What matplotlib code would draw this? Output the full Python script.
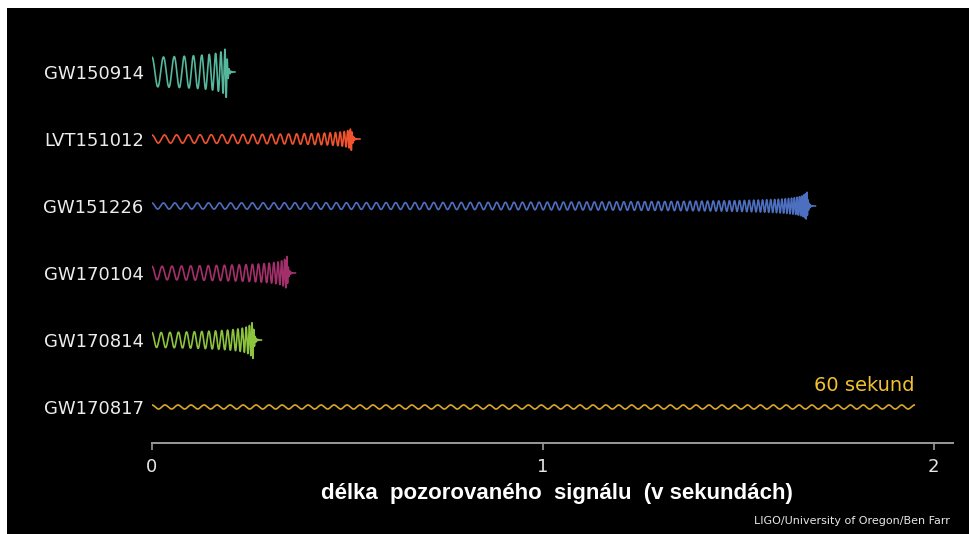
import matplotlib

matplotlib.use("Agg")
import matplotlib.pyplot as plt
import numpy as np

# detected events, top to bottom
events = ["GW150914", "LVT151012", "GW151226", "GW170104", "GW170814", "GW170817"]
colors = ["#55b89c", "#f0532e", "#4d6fc0", "#a3306a", "#8dc43e", "#d9a62a"]

# observed signal length (s) up to merger
merge_time = [0.19, 0.51, 1.675, 0.345, 0.258, 1.95]
# frequency at start / at merger (Hz)
f_start = [33.0, 31.0, 34.0, 38.0, 42.0, 30.0]
f_merge = [170.0, 230.0, 300.0, 220.0, 220.0, 30.5]
# strain amplitude in row units (start / peak)
amp_start = [0.22, 0.06, 0.045, 0.10, 0.11, 0.03]
amp_peak = [0.38, 0.17, 0.21, 0.25, 0.29, 0.03]
has_ringdown = [True, True, True, True, True, False]

xticks = [0, 1, 2]
x_max = 2.049
note_text = "60 sekund"
xlabel_text = "délka  pozorovaného  signálu  (v sekundách)"
credit_text = "LIGO/University of Oregon/Ben Farr"

RATE = 20000.0


def chirp(t_merge, f0, f1, a0, a1, ringdown):
    """Newtonian inspiral chirp followed by a short damped ringdown."""
    t = np.arange(0.0, t_merge, 1.0 / RATE)
    tc = t_merge / (1.0 - (f0 / f1) ** (8.0 / 3.0))
    f = f0 * (1.0 - t / tc) ** (-3.0 / 8.0)
    phase = 2 * np.pi * np.cumsum(f) / RATE
    k = np.log(a1 / a0) / np.log(f1 / f0) if a1 != a0 else 0.0
    h = a0 * (f / f0) ** k * np.cos(phase)
    if not ringdown:
        return t, h
    tr = np.arange(1.0 / RATE, 0.022, 1.0 / RATE)
    hr = a1 * np.exp(-tr / 0.0035) * np.cos(phase[-1] + 2 * np.pi * 1.2 * f1 * tr)
    return np.concatenate([t, t_merge + tr]), np.concatenate([h, hr])


fig = plt.figure(figsize=(9.7, 5.34), dpi=100, facecolor="white")
# black panel inside a thin white margin
fig.patches.append(plt.Rectangle((7 / 970, 0), 1, 1 - 8 / 534, transform=fig.transFigure,
                                 facecolor="black", edgecolor="none", zorder=-10))

ax = fig.add_axes([152 / 970, 1 - 443 / 534, 801 / 970, 423 / 534])
ax.set_facecolor("none")

n = len(events)
for i, name in enumerate(events):
    row = n - 1 - i
    t, h = chirp(merge_time[i], f_start[i], f_merge[i], amp_start[i], amp_peak[i], has_ringdown[i])
    ax.plot(t, row + h, color=colors[i], linewidth=1.2, solid_joinstyle="round")

ax.set_xlim(0, x_max)
ax.set_ylim(-36 / 67, n - 1 + 52 / 67)
ax.set_yticks(np.arange(n - 1, -1, -1))
ax.set_yticklabels(events, fontsize=13, color="#ececec")
ax.tick_params(axis="y", length=0, pad=6)
ax.set_xticks(xticks)
ax.set_xticklabels([str(v) for v in xticks], fontsize=13)
ax.tick_params(axis="x", colors="#9a9a9a", length=5, width=1.2, pad=6, labelcolor="#e6e6e6")

for side in ["top", "right", "left"]:
    ax.spines[side].set_visible(False)
ax.spines["bottom"].set_color("#9a9a9a")
ax.spines["bottom"].set_linewidth(1.4)

ax.text(merge_time[-1], 0.32, note_text, color="#f2c12e", fontsize=14, ha="right", va="center")

fig.text(557 / 970, 1 - 493 / 534, xlabel_text, color="white", fontsize=16, fontweight="bold",
         family="Liberation Sans", ha="center", va="center")
fig.text(950 / 970, 1 - 521 / 534, credit_text, color="#e8e8e8", fontsize=8, ha="right", va="center")

fig.savefig("out.png", dpi=100, facecolor=fig.get_facecolor())
plt.close(fig)
